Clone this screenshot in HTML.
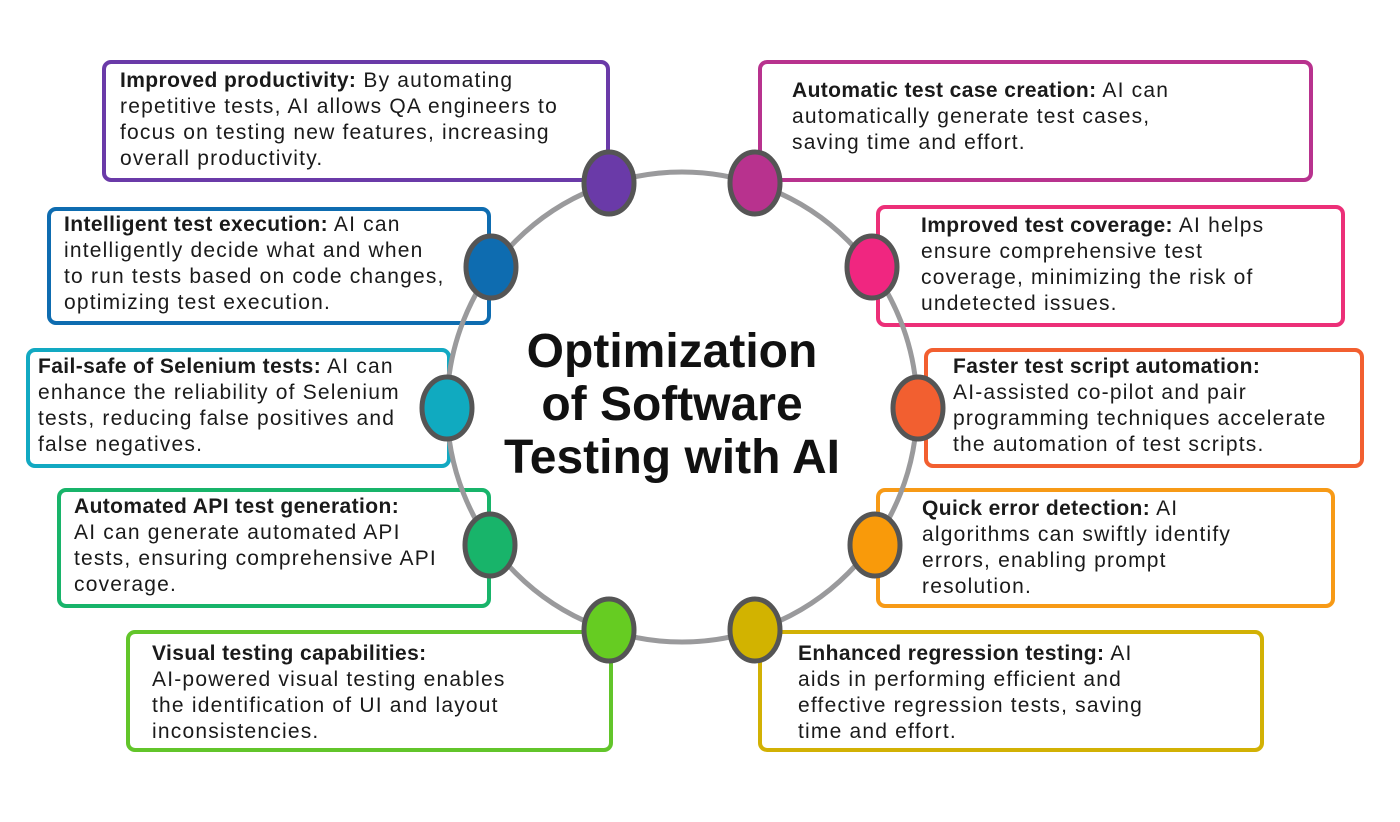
<!DOCTYPE html>
<html><head><meta charset="utf-8"><style>
body{margin:0;width:1400px;height:822px;background:#fff;position:relative;overflow:hidden;font-family:"Liberation Sans",sans-serif;color:#1a1a1a}
.b{position:absolute;border:4px solid;border-radius:9px;box-sizing:border-box;background:#fff}
.t{position:absolute;font-size:21px;line-height:26px;letter-spacing:1.2px;white-space:nowrap}
.t b{font-weight:bold;letter-spacing:0.4px}
svg{position:absolute;left:0;top:0}
.title{position:absolute;left:442px;top:325px;width:460px;text-align:center;font-weight:bold;font-size:48px;line-height:53px;color:#111}
</style></head><body>
<div class="b" style="left:102px;top:60px;width:508px;height:122px;border-color:#6a3aa8"></div>
<div class="b" style="left:47px;top:207px;width:444px;height:118px;border-color:#0e6cb0"></div>
<div class="b" style="left:26px;top:348px;width:425px;height:120px;border-color:#12a9c2"></div>
<div class="b" style="left:57px;top:488px;width:434px;height:120px;border-color:#18b46a"></div>
<div class="b" style="left:126px;top:630px;width:487px;height:122px;border-color:#62c52a"></div>
<div class="b" style="left:758px;top:60px;width:555px;height:122px;border-color:#b8328e"></div>
<div class="b" style="left:876px;top:205px;width:469px;height:122px;border-color:#ec2f78"></div>
<div class="b" style="left:924px;top:348px;width:440px;height:120px;border-color:#f25f30"></div>
<div class="b" style="left:876px;top:488px;width:459px;height:120px;border-color:#f79a16"></div>
<div class="b" style="left:758px;top:630px;width:506px;height:122px;border-color:#d2b104"></div>

<svg width="1400" height="822">
<circle cx="682" cy="407" r="235" fill="none" stroke="#9a9a9c" stroke-width="5"/>
<g stroke="#555" stroke-width="5">
<ellipse cx="609" cy="183" rx="25" ry="31" fill="#6a3aa8"/>
<ellipse cx="491" cy="267" rx="25" ry="31" fill="#0e6cb0"/>
<ellipse cx="447" cy="408" rx="25" ry="31" fill="#10aac0"/>
<ellipse cx="490" cy="545" rx="25" ry="31" fill="#18b46a"/>
<ellipse cx="609" cy="630" rx="25" ry="31" fill="#66cc22"/>
<ellipse cx="755" cy="183" rx="25" ry="31" fill="#b8328e"/>
<ellipse cx="872" cy="267" rx="25" ry="31" fill="#f02680"/>
<ellipse cx="918" cy="408" rx="25" ry="31" fill="#f25f30"/>
<ellipse cx="875" cy="545" rx="25" ry="31" fill="#f99a0a"/>
<ellipse cx="755" cy="630" rx="25" ry="31" fill="#d2b300"/>
</g></svg>

<div class="t" style="left:120px;top:68px"><b>Improved productivity:</b> By automating<br>repetitive tests, AI allows QA engineers to<br>focus on testing new features, increasing<br>overall productivity.</div>
<div class="t" style="left:64px;top:212px"><b>Intelligent test execution:</b> AI can<br>intelligently decide what and when<br>to run tests based on code changes,<br>optimizing test execution.</div>
<div class="t" style="left:38px;top:354px"><b>Fail-safe of Selenium tests:</b> AI can<br>enhance the reliability of Selenium<br>tests, reducing false positives and<br>false negatives.</div>
<div class="t" style="left:74px;top:494px"><b>Automated API test generation:</b><br>AI can generate automated API<br>tests, ensuring comprehensive API<br>coverage.</div>
<div class="t" style="left:152px;top:641px"><b>Visual testing capabilities:</b><br>AI-powered visual testing enables<br>the identification of UI and layout<br>inconsistencies.</div>
<div class="t" style="left:792px;top:78px"><b>Automatic test case creation:</b> AI can<br>automatically generate test cases,<br>saving time and effort.</div>
<div class="t" style="left:921px;top:213px"><b>Improved test coverage:</b> AI helps<br>ensure comprehensive test<br>coverage, minimizing the risk of<br>undetected issues.</div>
<div class="t" style="left:953px;top:354px"><b>Faster test script automation:</b><br>AI-assisted co-pilot and pair<br>programming techniques accelerate<br>the automation of test scripts.</div>
<div class="t" style="left:922px;top:496px"><b>Quick error detection:</b> AI<br>algorithms can swiftly identify<br>errors, enabling prompt<br>resolution.</div>
<div class="t" style="left:798px;top:641px"><b>Enhanced regression testing:</b> AI<br>aids in performing efficient and<br>effective regression tests, saving<br>time and effort.</div>

<div class="title">Optimization<br>of Software<br>Testing with AI</div>
</body></html>
